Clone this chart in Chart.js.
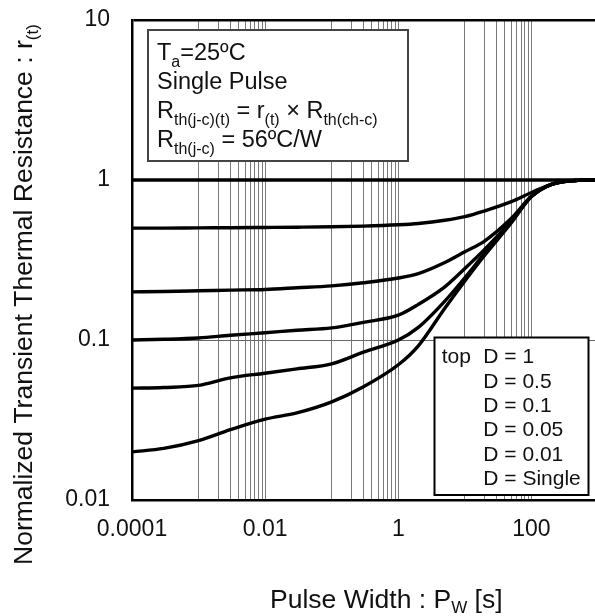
<!DOCTYPE html>
<html>
<head>
<meta charset="utf-8">
<script src="https://cdn.jsdelivr.net/npm/chart.js@4.4.1/dist/chart.umd.min.js"></script>
<style>
  html, body { margin: 0; padding: 0; background: #fff; overflow: hidden; }
  #wrap { width: 595px; height: 616px; overflow: hidden; }
</style>
</head>
<body>
<div id="wrap"><canvas id="c" width="600" height="616"></canvas></div>
<script>
// ---- data ----
const pulseWidth = [1e-4, 3e-4, 1e-3, 3e-3, 1e-2, 3e-2, 0.1, 0.3, 1, 2, 5, 10, 20, 50, 100, 200, 500, 1000];
const dutyLabels = ["D = 1", "D = 0.5", "D = 0.1", "D = 0.05", "D = 0.01", "D = Single"];
const rD1      = [1, 1, 1, 1, 1, 1, 1, 1, 1, 1, 1, 1, 1, 1, 1, 1, 1, 1];
const rD05     = [0.50, 0.50, 0.502, 0.503, 0.505, 0.507, 0.51, 0.515, 0.525, 0.535, 0.56, 0.59, 0.642, 0.732, 0.835, 0.94, 0.995, 1];
const rD01     = [0.200, 0.201, 0.203, 0.205, 0.207, 0.212, 0.218, 0.228, 0.244, 0.26, 0.305, 0.356, 0.417, 0.576, 0.79, 0.94, 0.995, 1];
const rD005    = [0.100, 0.101, 0.103, 0.107, 0.111, 0.115, 0.119, 0.129, 0.143, 0.167, 0.215, 0.28, 0.37, 0.555, 0.79, 0.94, 0.995, 1];
const rD001    = [0.050, 0.0505, 0.052, 0.058, 0.062, 0.066, 0.071, 0.084, 0.10, 0.12, 0.175, 0.245, 0.35, 0.55, 0.79, 0.94, 0.995, 1];
const rSingle  = [0.020, 0.021, 0.0235, 0.0275, 0.032, 0.035, 0.041, 0.051, 0.07, 0.092, 0.158, 0.234, 0.34, 0.54, 0.79, 0.94, 0.995, 1];
const xTickValues = [];
for (let e = -4; e <= 2; e++) for (let m = 1; m <= 9; m++) xTickValues.push(+(m * Math.pow(10, e)).toPrecision(3));
xTickValues.push(1000);
const xTickLabels = { "0.0001": "0.0001", "0.01": "0.01", "1": "1", "100": "100" };
const yTickValues = [0.01, 0.1, 1, 10];
const yTickLabels = ["0.01", "0.1", "1", "10"];

const FONT = '"Liberation Sans", Arial, Helvetica, sans-serif';

function richText(ctx, x, y, parts, size, subSize, subDy) {
  let cx = x;
  for (const p of parts) {
    ctx.font = (p.s ? subSize : size) + 'px ' + FONT;
    ctx.fillText(p.t, cx, y + (p.s ? subDy : 0));
    cx += ctx.measureText(p.t).width;
  }
}

const decorations = {
  id: 'decorations',
  afterDatasetsDraw(chart) {
    const ctx = chart.ctx;
    ctx.save();
    ctx.textBaseline = 'alphabetic';
    ctx.textAlign = 'left';

    // info box
    ctx.fillStyle = '#fff';
    ctx.fillRect(148, 30, 260, 131);
    ctx.strokeStyle = '#444';
    ctx.lineWidth = 2;
    ctx.strokeRect(148, 30, 260, 131);
    ctx.fillStyle = '#111';
    const bs = 23.5, ss = 16, sd = 7;
    richText(ctx, 157, 60, [{t: 'T'}, {t: 'a', s: 1}, {t: '=25ºC'}], bs, ss, sd);
    richText(ctx, 157, 88.5, [{t: 'Single Pulse'}], bs, ss, sd);
    richText(ctx, 157, 117.5, [{t: 'R'}, {t: 'th(j-c)(t)', s: 1}, {t: ' = r'}, {t: '(t)', s: 1}, {t: ' × R'}, {t: 'th(ch-c)', s: 1}], bs, ss, sd);
    richText(ctx, 157, 146.5, [{t: 'R'}, {t: 'th(j-c)', s: 1}, {t: ' = 56ºC/W'}], bs, ss, sd);

    // legend box
    ctx.fillStyle = '#fff';
    ctx.fillRect(434.5, 337.5, 154, 157.5);
    ctx.strokeStyle = '#000';
    ctx.lineWidth = 2;
    ctx.strokeRect(434.5, 337.5, 154, 157.5);
    ctx.fillStyle = '#111';
    ctx.font = '21px ' + FONT;
    ctx.fillText('top', 441.7, 363.3);
    dutyLabels.forEach((lb, i) => ctx.fillText(lb, 483.3, 363.3 + 24.3 * i));

    // axis titles
    richText(ctx, 270, 608, [{t: 'Pulse Width : P'}, {t: 'W', s: 1}, {t: ' [s]'}], 26.5, 17, 5);
    ctx.save();
    ctx.translate(31.7, 565);
    ctx.rotate(-Math.PI / 2);
    richText(ctx, 0, 0, [{t: 'Normalized Transient Thermal Resistance : r'}, {t: '(t)', s: 1}], 26.5, 17, 6);
    ctx.restore();
    ctx.restore();
  }
};

function xGridVisible(v) {
  const lg = Math.log10(v);
  const dec = Math.floor(lg + 1e-9);
  const mant = Math.round(v / Math.pow(10, dec));
  if (v <= 1.0001e-4 || v >= 999) return false;
  if (mant === 1) return true;
  return dec === -3 || dec === -1 || dec === 1;
}

function zeroPad(s) { s.paddingTop = 0; s.paddingBottom = 0; s.paddingLeft = 0; s.paddingRight = 0; }

const mk = (label, data) => ({
  label, data: pulseWidth.map((x, i) => ({x, y: data[i]})),
  borderColor: '#000', borderWidth: 3.4, pointRadius: 0, fill: false,
  cubicInterpolationMode: 'monotone'
});

new Chart(document.getElementById('c'), {
  type: 'line',
  data: {
    datasets: [
      mk(dutyLabels[0], rD1), mk(dutyLabels[1], rD05), mk(dutyLabels[2], rD01),
      mk(dutyLabels[3], rD005), mk(dutyLabels[4], rD001), mk(dutyLabels[5], rSingle)
    ]
  },
  options: {
    responsive: false, animation: false, devicePixelRatio: 1,
    layout: { padding: { left: 0, top: 20, right: 2, bottom: 0 } },
    plugins: { legend: { display: false }, tooltip: { enabled: false } },
    scales: {
      x: {
        type: 'logarithmic', min: 1e-4, max: 1000,
        afterBuildTicks: s => { s.ticks = xTickValues.map(v => ({value: v})); },
        afterFit: s => { s.height = 116; zeroPad(s); },
        grid: {
          drawTicks: false,
          color: c => (c.tick && xGridVisible(c.tick.value)) ? '#7a7a7a' : 'rgba(0,0,0,0)',
          lineWidth: 1
        },
        border: { display: true, color: '#000', width: 2.5 },
        ticks: {
          autoSkip: false, maxRotation: 0, minRotation: 0, padding: 16,
          color: '#111', font: { family: FONT, size: 23 },
          callback: v => xTickLabels[String(+(+v).toPrecision(3))] || ''
        }
      },
      y: {
        type: 'logarithmic', min: 0.01, max: 10,
        afterBuildTicks: s => { s.ticks = yTickValues.map(v => ({value: v})); },
        afterFit: s => { s.width = 132; zeroPad(s); },
        grid: {
          drawTicks: false,
          color: c => {
            const v = c.tick ? c.tick.value : 0;
            if (v >= 9.9) return '#000';
            if (v <= 0.0101) return 'rgba(0,0,0,0)';
            return '#666';
          },
          lineWidth: c => (c.tick && c.tick.value >= 9.9) ? 2.5 : 1
        },
        border: { display: true, color: '#000', width: 2.5 },
        ticks: {
          padding: 22, color: '#111', font: { family: FONT, size: 23 },
          callback: (v) => { const i = yTickValues.findIndex(t => Math.abs(t - v) / t < 1e-6); return i >= 0 ? yTickLabels[i] : ''; }
        }
      }
    }
  },
  plugins: [decorations]
});
</script>
</body>
</html>
